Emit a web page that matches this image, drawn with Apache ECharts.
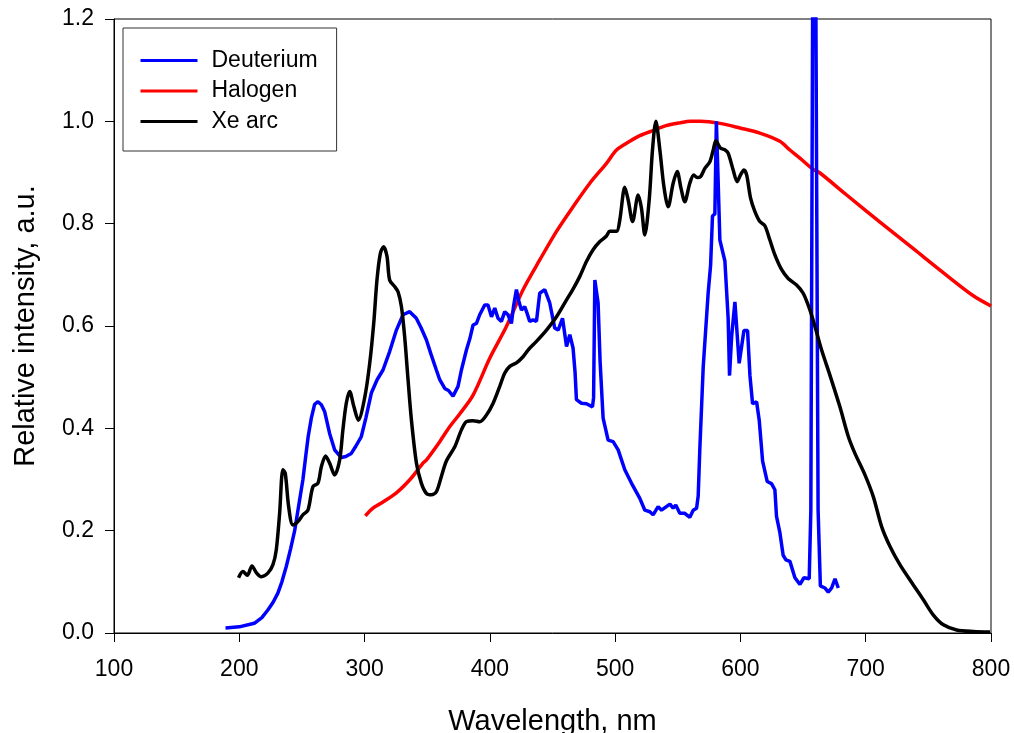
<!DOCTYPE html>
<html>
<head>
<meta charset="utf-8">
<script src="https://cdn.jsdelivr.net/npm/echarts@6/dist/echarts.min.js"></script>
<style>
html,body{margin:0;padding:0;background:#fff;}
#chart{width:1014px;height:733px;}
</style>
</head>
<body>
<div id="chart"></div>
<script>
// ---- Data (wavelength in nm, relative intensity) ----
const xTicks = [100, 200, 300, 400, 500, 600, 700, 800];
const yTicks = [0.0, 0.2, 0.4, 0.6, 0.8, 1.0, 1.2];
const seriesNames = ['Deuterium', 'Halogen', 'Xe arc'];

const deuteriumWl = [189.0,200,212,218,222.8,227,230.8,234,237.5,241,244.2,247.5,250.8,253,255,257.5,260.1,262.8,265.5,268.1,272.1,276.1,281.4,285,289.4,293,297.4,301,305.4,310,314.7,320,325.4,330.7,336.0,341.3,345,349.3,353,357.3,360,364,367,370.6,374.6,377.3,381.3,384,386.6,389.3,391.9,395.9,398.5,401.3,403.9,406.5,409.2,411.9,414.5,417.2,419,421.2,423,425.2,427.8,429.7,431.8,434.5,437.2,439.8,443.8,447.8,451.8,454.5,458.0,461.2,463.8,466.4,468,469.1,473.1,477.1,481.9,482.8,483.8,486.4,488,490.4,494.4,498.4,502.4,507.7,513.0,519.7,523.7,527.7,530.3,534.3,537.0,543.7,546.3,548.4,551.6,555.6,559.6,562.3,565,566.3,567.6,570.3,574.2,576.2,577.7,579.6,580.8,582.0,583.6,587.6,590.2,591.3,593,595.6,599.0,602.8,605.7,607.6,609.7,612.9,615.0,617.7,621.4,624.8,627.5,628.8,631.5,634.1,636.3,639.5,643.5,647.5,650.7,654.9,656.2,658.8,662.0,663.8,667.4,670.1,672.8,675.5,678.1];
const deuteriumInt = [0.010,0.012,0.019,0.030,0.045,0.060,0.078,0.100,0.130,0.165,0.200,0.250,0.300,0.345,0.384,0.420,0.447,0.452,0.446,0.433,0.390,0.358,0.343,0.345,0.351,0.365,0.384,0.420,0.469,0.495,0.514,0.550,0.592,0.622,0.628,0.615,0.597,0.573,0.545,0.514,0.495,0.478,0.474,0.463,0.482,0.514,0.553,0.575,0.602,0.605,0.622,0.641,0.641,0.618,0.635,0.615,0.609,0.628,0.622,0.605,0.640,0.671,0.650,0.631,0.638,0.625,0.609,0.612,0.609,0.664,0.671,0.645,0.596,0.592,0.615,0.560,0.583,0.557,0.510,0.456,0.449,0.448,0.442,0.460,0.690,0.645,0.530,0.420,0.377,0.374,0.358,0.319,0.293,0.263,0.240,0.237,0.231,0.247,0.240,0.252,0.244,0.250,0.234,0.234,0.226,0.240,0.244,0.268,0.360,0.520,0.663,0.719,0.815,0.819,1.000,1.000,0.768,0.727,0.615,0.503,0.580,0.647,0.527,0.591,0.591,0.503,0.448,0.452,0.416,0.336,0.296,0.292,0.280,0.228,0.196,0.152,0.143,0.140,0.108,0.095,0.108,0.106,0.240,2.000,0.240,0.092,0.088,0.080,0.088,0.106,0.088];

const halogenWl = [300.6,306.7,312,325.4,337,346.6,349.3,360,367.9,375.9,386.6,399.9,413.2,426.5,439.8,453.2,466.4,479.8,493.1,501.1,511.7,519.7,530.3,540,551.6,560,568,583.6,599.6,615.5,631.5,639.5,647.5,658.1,663.5,684.8,711.4,738.0,764.6,785.9,800];
const halogenInt = [0.229,0.244,0.252,0.274,0.302,0.332,0.338,0.374,0.403,0.428,0.465,0.537,0.599,0.671,0.729,0.785,0.833,0.879,0.918,0.944,0.961,0.972,0.982,0.991,0.997,1.000,1.000,0.996,0.987,0.977,0.961,0.944,0.928,0.906,0.899,0.856,0.803,0.751,0.699,0.659,0.639];

const xeWl = [199.4,202.9,206.4,210.1,213.6,217.6,222.8,226.8,229.5,232.2,234.8,236.7,239.4,242.8,246.8,250.8,254.8,258.8,262.8,265.5,268.9,272.1,276.1,280.1,282.7,285.4,288.1,291.5,295.0,300.1,304.1,307.3,309.9,312.6,315.2,317.9,320.0,324.0,326.7,329.4,332.0,334.7,337.4,341.4,345.3,349.3,353.3,357.3,361.3,365.3,372.0,377.3,381.3,386.6,391.9,397.3,402.6,407.9,411.9,415.9,421.2,426.5,430.5,437.2,445.2,453.2,461.2,466.4,471.8,477.1,482.4,487.8,493.1,495.7,501.1,503.7,507.7,510.5,513.9,518.4,521,523.7,527.2,529.8,532.5,535.7,538.9,542.3,546.3,549.5,552.5,555.6,559.6,562.8,565.5,568.2,571.6,575.6,578.3,580.4,583.9,587.8,590.2,594.2,597.4,600,602.8,605,608.1,611.5,615.5,619.5,623.5,627.5,632.9,638.1,644.8,650.1,655.5,659.5,664.8,671.4,679.4,686.1,691.4,699.4,706.1,712.7,719.4,727.4,738.0,746.0,754.0,762.0,772.6,785.9,799.2];
const xeInt = [0.108,0.120,0.113,0.131,0.118,0.110,0.117,0.133,0.162,0.234,0.319,0.312,0.247,0.211,0.218,0.231,0.240,0.286,0.293,0.325,0.346,0.332,0.309,0.338,0.397,0.449,0.472,0.442,0.416,0.460,0.527,0.605,0.690,0.742,0.755,0.736,0.690,0.677,0.667,0.638,0.579,0.495,0.416,0.332,0.293,0.273,0.270,0.276,0.306,0.336,0.364,0.397,0.413,0.415,0.413,0.426,0.449,0.482,0.508,0.521,0.528,0.540,0.553,0.570,0.592,0.618,0.651,0.672,0.697,0.726,0.749,0.765,0.776,0.785,0.785,0.807,0.871,0.845,0.804,0.856,0.830,0.778,0.847,0.944,1.000,0.944,0.873,0.833,0.879,0.902,0.870,0.843,0.879,0.895,0.890,0.892,0.908,0.921,0.944,0.962,0.948,0.944,0.938,0.905,0.882,0.895,0.905,0.895,0.850,0.824,0.804,0.796,0.768,0.739,0.710,0.693,0.680,0.664,0.631,0.599,0.553,0.504,0.442,0.384,0.351,0.309,0.266,0.208,0.169,0.133,0.094,0.065,0.035,0.016,0.006,0.003,0.002];

function pairs(xs, ys) { return xs.map((x, i) => [x, ys[i]]); }

const FONT = "'Liberation Sans', Arial, sans-serif";
const chart = echarts.init(document.getElementById('chart'), null, {renderer: 'canvas'});

chart.setOption({
  backgroundColor: '#ffffff',
  animation: false,
  textStyle: {fontFamily: FONT, color: '#000'},
  grid: {
    left: 114, right: 23, top: 19, bottom: 100,
    containLabel: false, outerBoundsMode: 'none',
    show: true, borderColor: '#000', borderWidth: 1, backgroundColor: 'transparent'
  },
  legend: {
    orient: 'vertical',
    left: 123, top: 28,
    data: seriesNames,
    backgroundColor: '#fff',
    borderColor: '#333', borderWidth: 1, borderRadius: 0,
    padding: [21, 19, 18, 16],
    itemWidth: 57, itemHeight: 23, itemGap: 7.5,
    itemStyle: {opacity: 0},
    lineStyle: {width: 3},
    textStyle: {fontFamily: FONT, fontSize: 23, color: '#000', padding: [0, 0, 0, 9]}
  },
  xAxis: {
    type: 'value',
    min: xTicks[0], max: xTicks[xTicks.length - 1], interval: 100,
    name: 'Wavelength, nm', nameLocation: 'middle', nameGap: 74,
    nameTextStyle: {fontFamily: FONT, fontSize: 29, color: '#000'},
    axisLine: {show: true, onZero: false, lineStyle: {color: '#000', width: 1}},
    axisTick: {show: true, inside: false, length: 9, lineStyle: {color: '#000', width: 1}},
    axisLabel: {fontFamily: FONT, fontSize: 23, color: '#000', margin: 25,
      formatter: v => String(v)},
    splitLine: {show: false}
  },
  yAxis: {
    type: 'value',
    min: yTicks[0], max: yTicks[yTicks.length - 1], interval: 0.2,
    name: 'Relative intensity, a.u.', nameLocation: 'middle', nameGap: 74,
    nameTextStyle: {fontFamily: FONT, fontSize: 29, color: '#000'},
    axisLine: {show: true, onZero: false, lineStyle: {color: '#000', width: 1}},
    axisTick: {show: true, inside: false, length: 9, lineStyle: {color: '#000', width: 1}},
    axisLabel: {fontFamily: FONT, fontSize: 23, color: '#000', margin: 20,
      formatter: v => v.toFixed(1)},
    splitLine: {show: false}
  },
  series: [
    {
      name: seriesNames[0], type: 'line', data: pairs(deuteriumWl, deuteriumInt),
      symbol: 'none', smooth: false, clip: true,
      lineStyle: {color: '#0000ff', width: 3.5}, itemStyle: {color: '#0000ff'}, z: 3
    },
    {
      name: seriesNames[1], type: 'line', data: pairs(halogenWl, halogenInt),
      symbol: 'none', smooth: 0.3, clip: true,
      lineStyle: {color: '#ff0000', width: 3.5}, itemStyle: {color: '#ff0000'}, z: 2
    },
    {
      name: seriesNames[2], type: 'line', data: pairs(xeWl, xeInt),
      symbol: 'none', smooth: 0.3, clip: true,
      lineStyle: {color: '#000000', width: 3.5}, itemStyle: {color: '#000000'}, z: 4
    }
  ]
});
</script>
</body>
</html>
